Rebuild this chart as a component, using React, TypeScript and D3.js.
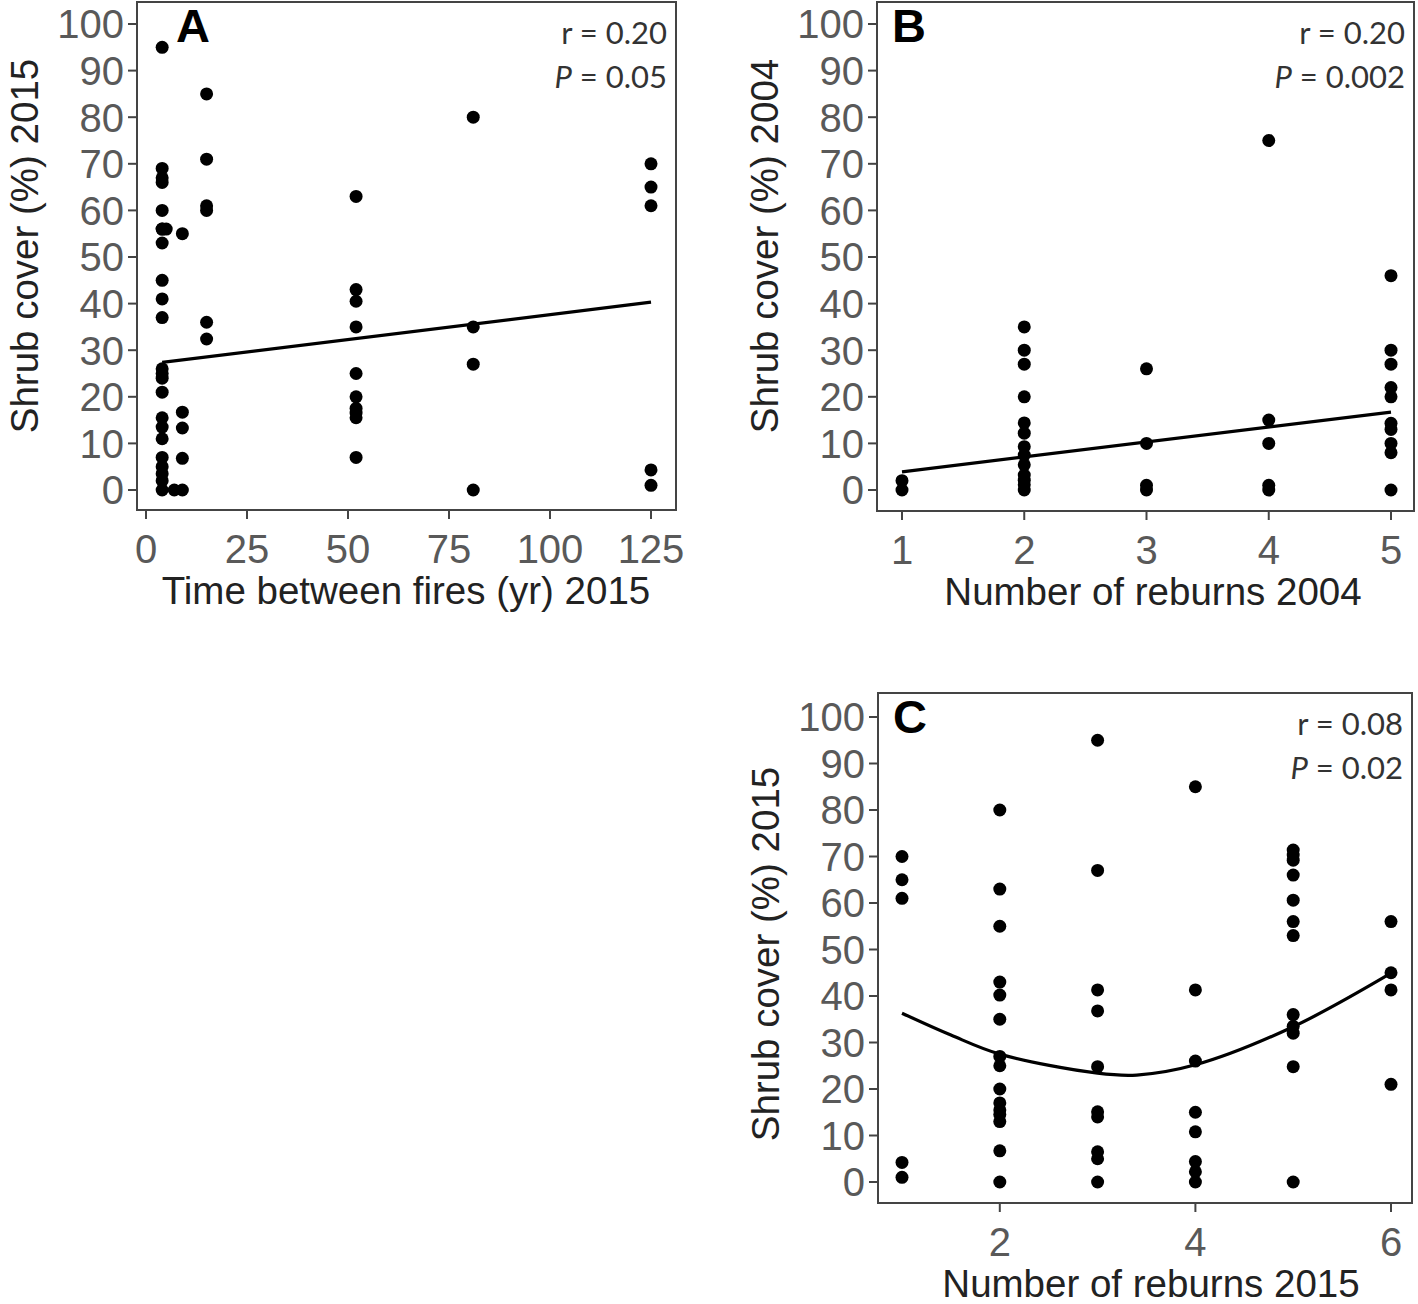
import React from "react";
import * as d3 from "d3";

// ---------- data ----------
const yTicks = [0, 10, 20, 30, 40, 50, 60, 70, 80, 90, 100];

// Panel A: time between fires (yr) 2015 vs shrub cover (%) 2015
const aTime = [
  4, 4, 4, 4, 4, 5, 4, 4, 4, 4, 4, 4, 4, 4, 4, 4, 4, 4, 4, 4, 4, 4, 4, 4,
  9, 9, 9, 9, 9, 7,
  15, 15, 15, 15, 15, 15,
  52, 52, 52, 52, 52, 52, 52, 52, 52, 52,
  81, 81, 81, 81,
  125, 125, 125, 125, 125,
];
const aCover = [
  95, 69, 67, 66, 56, 56, 60, 53, 45, 41, 37, 26, 25, 24, 21, 15.5, 13.5, 11, 7, 5, 3.5, 2, 0, 56,
  55, 16.7, 13.3, 6.8, 0, 0,
  85, 71, 61, 60, 36, 32.4,
  63, 43, 40.5, 35, 25, 20, 17.5, 16.5, 15.5, 7,
  80, 35, 27, 0,
  70, 65, 61, 4.3, 1,
];
const aFitX = [4, 125];
const aFitY = [27.4, 40.3];
const aTicksX = [0, 25, 50, 75, 100, 125];

// Panel B: number of reburns 2004 vs shrub cover (%) 2004
const bReburns = [
  1, 1,
  2, 2, 2, 2, 2, 2, 2, 2, 2, 2, 2, 2, 2,
  3, 3, 3, 3,
  4, 4, 4, 4, 4,
  5, 5, 5, 5, 5, 5, 5, 5, 5, 5,
];
const bCover = [
  2, 0,
  35, 30, 27, 20, 14.4, 12.2, 9.3, 7.5, 5.4, 3.2, 2.1, 1.1, 0,
  26, 10, 1, 0,
  75, 15, 10, 1, 0,
  46, 30, 27, 22, 20, 14.3, 13, 10, 8, 0,
];
const bFitX = [1, 5];
const bFitY = [3.9, 16.7];
const bTicksX = [1, 2, 3, 4, 5];

// Panel C: number of reburns 2015 vs shrub cover (%) 2015
const cReburns = [
  1, 1, 1, 1, 1,
  2, 2, 2, 2, 2, 2, 2, 2, 2, 2, 2, 2, 2, 2, 2,
  3, 3, 3, 3, 3, 3, 3, 3, 3, 3,
  4, 4, 4, 4, 4, 4, 4, 4,
  5, 5, 5, 5, 5, 5, 5, 5, 5, 5, 5, 5,
  6, 6, 6, 6,
];
const cCover = [
  70, 65, 61, 4.2, 1,
  80, 63, 55, 43, 40.2, 35, 27, 25, 20, 17, 15.5, 14.5, 13, 6.7, 0,
  95, 67, 41.3, 36.8, 24.8, 15.1, 14, 6.5, 5, 0,
  85, 41.3, 26, 15, 10.8, 4.4, 2.2, 0,
  71.4, 70.3, 69.2, 66, 60.6, 56, 53, 36, 33.5, 32, 24.8, 0,
  56, 45, 41.3, 21,
];
const cFitX = [1, 1.5, 2, 3, 3.4, 4, 5, 6];
const cFitY = [36.3, 31.6, 27.5, 23.4, 23.0, 25.2, 33.4, 44.9];
const cTicksX = [2, 4, 6];

// ---------- layout ----------
const W = 1418;
const H = 1304;
const TICK_FONT = "'Liberation Sans', Arial, sans-serif";
const STAT_FONT = "Lato, 'Open Sans', sans-serif";

type PanelProps = {
  box: { x0: number; x1: number; y0: number; y1: number };
  xs: d3.ScaleLinear<number, number>;
  ys: d3.ScaleLinear<number, number>;
  xv: number[];
  yv: number[];
  xTicks: number[];
  fitX: number[];
  fitY: number[];
  curved: boolean;
  letter: string;
  r: string;
  p: string;
  xTitle: string;
  yTitle: string;
  yTitleCenter: number;
  xTitleCenter: number;
};

function Panel(props: PanelProps) {
  const { box, xs, ys, xv, yv, xTicks, fitX, fitY, curved, letter, r, p, xTitle, yTitle, yTitleCenter, xTitleCenter } = props;
  const fit = fitX.map((x, i) => [x, fitY[i]] as [number, number]);
  const line = d3
    .line<[number, number]>()
    .x((d) => xs(d[0]))
    .y((d) => ys(d[1]))
    .curve(curved ? d3.curveCatmullRom.alpha(0.5) : d3.curveLinear);
  return (
    <g>
      <rect x={box.x0} y={box.y0} width={box.x1 - box.x0} height={box.y1 - box.y0} fill="#fff" stroke="#444" strokeWidth={2} />
      {yTicks.map((t) => (
        <g key={"y" + t}>
          <line x1={box.x0 - 9} x2={box.x0} y1={ys(t)} y2={ys(t)} stroke="#444" strokeWidth={2} />
          <text x={box.x0 - 13} y={ys(t)} dy="0.36em" textAnchor="end" fontFamily={TICK_FONT} fontSize={40} fill="#595959">
            {t}
          </text>
        </g>
      ))}
      {xTicks.map((t) => (
        <g key={"x" + t}>
          <line x1={xs(t)} x2={xs(t)} y1={box.y1} y2={box.y1 + 9} stroke="#444" strokeWidth={2} />
          <text x={xs(t)} y={box.y1 + 53} textAnchor="middle" fontFamily={TICK_FONT} fontSize={40} fill="#595959">
            {t}
          </text>
        </g>
      ))}
      <text
        transform={`translate(${box.x0 - 99},${yTitleCenter}) rotate(-90)`}
        textAnchor="middle"
        fontFamily={TICK_FONT}
        fontSize={38.5}
        fill="#222"
      >
        {yTitle}
      </text>
      <text x={xTitleCenter} y={box.y1 + 94} textAnchor="middle" fontFamily={TICK_FONT} fontSize={38.5} fill="#222">
        {xTitle}
      </text>
      {xv.map((x, i) => (
        <circle key={"p" + i} cx={xs(x)} cy={ys(yv[i])} r={6.5} fill="#000" />
      ))}
      <path d={line(fit) || ""} fill="none" stroke="#000" strokeWidth={3.2} />
      <text x={letter === "A" ? box.x0 + 39 : box.x0 + 15} y={box.y0 + 40} fontFamily={TICK_FONT} fontWeight="bold" fontSize={47} fill="#000">
        {letter}
      </text>
      <text x={box.x1 - 9} y={box.y0 + 42} textAnchor="end" fontFamily={STAT_FONT} fontSize={31} fill="#333">
        {r}
      </text>
      <text x={box.x1 - 9} y={box.y0 + 86} textAnchor="end" fontFamily={STAT_FONT} fontSize={31} fill="#333">
        <tspan fontStyle="italic">P</tspan>
        {p}
      </text>
    </g>
  );
}

export default function App() {
  const boxA = { x0: 137, x1: 676, y0: 2, y1: 510 };
  const boxB = { x0: 877, x1: 1414, y0: 2, y1: 511 };
  const boxC = { x0: 878, x1: 1412, y0: 693, y1: 1203 };

  const xA = d3.scaleLinear().domain([0, 125]).range([146, 651]);
  const yA = d3.scaleLinear().domain([0, 100]).range([490, 24]);
  const xB = d3.scaleLinear().domain([1, 5]).range([902, 1391]);
  const yB = d3.scaleLinear().domain([0, 100]).range([490, 24]);
  const xC = d3.scaleLinear().domain([1, 6]).range([902, 1391]);
  const yC = d3.scaleLinear().domain([0, 100]).range([1182, 717]);

  return (
    <svg width={W} height={H} style={{ position: "absolute", left: 0, top: 0, background: "#fff" }}>
      <rect x={0} y={0} width={W} height={H} fill="#fff" />
      <Panel
        box={boxA}
        xs={xA}
        ys={yA}
        xv={aTime}
        yv={aCover}
        xTicks={aTicksX}
        fitX={aFitX}
        fitY={aFitY}
        curved={false}
        letter="A"
        r="r = 0.20"
        p=" = 0.05"
        xTitle="Time between fires (yr) 2015"
        yTitle="Shrub cover (%) 2015"
        yTitleCenter={246}
        xTitleCenter={406}
      />
      <Panel
        box={boxB}
        xs={xB}
        ys={yB}
        xv={bReburns}
        yv={bCover}
        xTicks={bTicksX}
        fitX={bFitX}
        fitY={bFitY}
        curved={false}
        letter="B"
        r="r = 0.20"
        p=" = 0.002"
        xTitle="Number of reburns 2004"
        yTitle="Shrub cover (%) 2004"
        yTitleCenter={246}
        xTitleCenter={1153}
      />
      <Panel
        box={boxC}
        xs={xC}
        ys={yC}
        xv={cReburns}
        yv={cCover}
        xTicks={cTicksX}
        fitX={cFitX}
        fitY={cFitY}
        curved={true}
        letter="C"
        r="r = 0.08"
        p=" = 0.02"
        xTitle="Number of reburns 2015"
        yTitle="Shrub cover (%) 2015"
        yTitleCenter={954}
        xTitleCenter={1151}
      />
    </svg>
  );
}
